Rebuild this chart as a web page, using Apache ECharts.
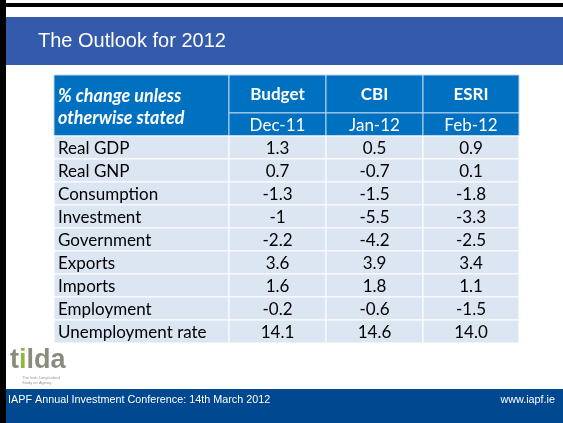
<!DOCTYPE html>
<html>
<head>
<meta charset="utf-8">
<script src="https://cdn.jsdelivr.net/npm/echarts@6/dist/echarts.min.js"></script>
<style>
html,body{margin:0;padding:0;background:#fff;}
#chart{width:563px;height:423px;}
</style>
</head>
<body>
<div id="chart"></div>
<script>
// ---- data ----
const title = 'The Outlook for 2012';
const headerLabel = ['% change unless', 'otherwise stated'];
const sources = ['Budget', 'CBI', 'ESRI'];
const dates = ['Dec-11', 'Jan-12', 'Feb-12'];
const categories = ['Real GDP', 'Real GNP', 'Consumption', 'Investment', 'Government', 'Exports', 'Imports', 'Employment', 'Unemployment rate'];
const budget = ['1.3', '0.7', '-1.3', '-1', '-2.2', '3.6', '1.6', '-0.2', '14.1'];
const cbi = ['0.5', '-0.7', '-1.5', '-5.5', '-4.2', '3.9', '1.8', '-0.6', '14.6'];
const esri = ['0.9', '0.1', '-1.8', '-3.3', '-2.5', '3.4', '1.1', '-1.5', '14.0'];
const footerLeft = 'IAPF Annual Investment Conference: 14th March 2012';
const footerRight = 'www.iapf.ie';

// ---- layout ----
const colW = [175, 97, 97, 96];
const colEdge = [0];
colW.forEach(w => colEdge.push(colEdge[colEdge.length - 1] + w));
const head1H = 1.65, head2H = 1;
const rowTop = r => head1H + head2H + r;
const FONT = 'Lato';
const series = [budget, cbi, esri];

// cells: [type, col, row, text]
const cells = [];
cells.push(['hlabel', 0, -1, '']);
sources.forEach((s, i) => cells.push(['h1', i + 1, -2, s]));
dates.forEach((d, i) => cells.push(['h2', i + 1, -1, d]));
categories.forEach((c, r) => {
  cells.push(['d', 0, r, c]);
  series.forEach((arr, i) => cells.push(['d', i + 1, r, arr[r]]));
});

function renderItem(params, api) {
  const type = cells[params.dataIndex][0];
  const col = api.value(1), row = api.value(2);
  const text = cells[params.dataIndex][3];
  let y0v, y1v;
  if (type === 'hlabel') { y0v = 0; y1v = head1H + head2H; }
  else if (type === 'h1') { y0v = 0; y1v = head1H; }
  else if (type === 'h2') { y0v = head1H; y1v = head1H + head2H; }
  else { y0v = rowTop(row); y1v = rowTop(row) + 1; }
  const p0 = api.coord([colEdge[col], y0v]);
  const p1 = api.coord([colEdge[col + 1], y1v]);
  const x = p0[0], y = p0[1], w = p1[0] - p0[0], h = p1[1] - p0[1];
  const isHead = type !== 'd';
  const children = [{
    type: 'rect',
    shape: { x: x, y: y, width: w, height: h },
    style: { fill: isHead ? '#0070C0' : '#DCE6F2', stroke: isHead ? '#BCD5EE' : '#ffffff', lineWidth: 1 }
  }];
  if (type === 'hlabel') {
    children.push({ type: 'text', style: { text: headerLabel[0], x: x + 4, y: y + 21, fill: '#fff', font: 'italic bold 18px ' + FONT, verticalAlign: 'middle', align: 'left' } });
    children.push({ type: 'text', style: { text: headerLabel[1], x: x + 4, y: y + 43, fill: '#fff', font: 'italic bold 18px ' + FONT, verticalAlign: 'middle', align: 'left' } });
  } else if (type === 'h1') {
    children.push({ type: 'text', style: { text: text, x: x + w / 2, y: y + h / 2 + 1, fill: '#fff', font: 'bold 17px ' + FONT, verticalAlign: 'middle', align: 'center' } });
  } else if (type === 'h2') {
    children.push({ type: 'text', style: { text: text, x: x + w / 2, y: y + h / 2 + 1, fill: '#fff', font: '17px ' + FONT, verticalAlign: 'middle', align: 'center' } });
  } else {
    children.push({ type: 'text', style: { text: text, x: col === 0 ? x + 4 : x + w / 2, y: y + h / 2 + 1, fill: '#000', font: '17px ' + FONT, verticalAlign: 'middle', align: col === 0 ? 'left' : 'center' } });
  }
  return { type: 'group', children: children };
}

const chart = echarts.init(document.getElementById('chart'), null, { renderer: 'canvas' });
chart.setOption({
  animation: false,
  backgroundColor: '#ffffff',
  grid: { left: 54, right: 44, top: 75, bottom: 80 },
  xAxis: { type: 'value', min: 0, max: colEdge[colEdge.length - 1], show: false },
  yAxis: { type: 'value', min: 0, max: head1H + head2H + categories.length, inverse: true, show: false },
  graphic: [
    { type: 'rect', left: 0, top: 3, shape: { width: 563, height: 4 }, style: { fill: '#000' } },
    { type: 'rect', left: 0, top: 0, shape: { width: 6, height: 423 }, style: { fill: '#000' } },
    { type: 'rect', left: 6, top: 17, shape: { width: 557, height: 48 }, style: { fill: '#335AAB' } },
    { type: 'text', left: 38, top: 31, style: { text: title, fill: '#fff', font: '20px "Liberation Sans", Arial' } },
    { type: 'rect', left: 6, top: 389, shape: { width: 557, height: 34 }, style: { fill: '#00488F' } },
    { type: 'text', left: 8, top: 395, style: { text: footerLeft, fill: '#fff', font: '10.8px "Liberation Sans", Arial' } },
    { type: 'text', right: 8, top: 395, style: { text: footerRight, fill: '#fff', font: '10.8px "Liberation Sans", Arial' } },
    { type: 'text', left: 10, top: 347, style: { text: '{g|t}{gr|i}{g|lda}', rich: { g: { fill: '#8A8B7E', font: 'bold 27px "Liberation Sans", Arial' }, gr: { fill: '#8DBA3E', font: 'bold 27px "Liberation Sans", Arial' } } } },
    { type: 'text', left: 22, top: 375, style: { text: 'The Irish Longitudinal\nStudy on Ageing', fill: '#9a9a9a', font: '4px "Liberation Sans", Arial', lineHeight: 5 } }
  ],
  series: [{
    type: 'custom',
    coordinateSystem: 'cartesian2d',
    renderItem: renderItem,
    data: cells.map(c => [c[0] === 'd' ? 0 : 1, c[1], c[2]]),
    silent: true
  }]
});
</script>
</body>
</html>
